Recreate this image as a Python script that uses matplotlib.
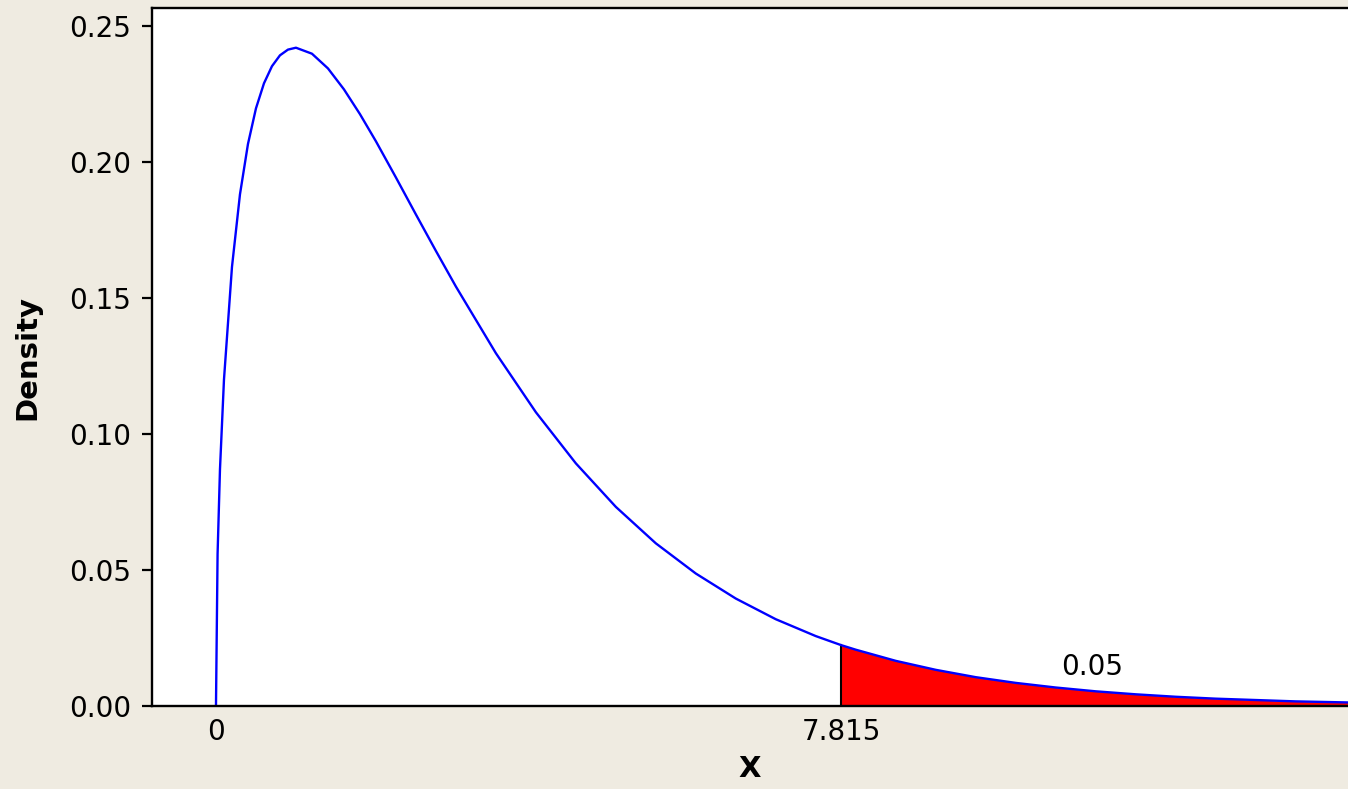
import numpy as np
import matplotlib
matplotlib.use('Agg')
import matplotlib.pyplot as plt

# density curve (chi-square shape, df = 3)
x_vals = [0.0, 0.0, 0.02, 0.05, 0.1, 0.2, 0.3, 0.4, 0.5, 0.6, 0.7, 0.8, 0.9, 1.0,
          1.2, 1.4, 1.6, 1.8, 2.0, 2.25, 2.5, 2.75, 3.0, 3.5, 4.0, 4.5, 5.0,
          5.5, 6.0, 6.5, 7.0, 7.5, 7.815, 8.0, 8.5, 9.0, 9.5, 10.0, 10.5,
          11.0, 11.5, 12.0, 12.5, 13.0, 13.5, 14.0, 14.5]
dens_vals = [0.0, 0.0, 0.0559, 0.0870, 0.1200, 0.1614, 0.1881, 0.2066, 0.2197,
             0.2289, 0.2352, 0.2392, 0.2413, 0.2420, 0.2398, 0.2344, 0.2267,
             0.2176, 0.2076, 0.1943, 0.1807, 0.1673, 0.1542, 0.1297, 0.1080,
             0.0892, 0.0732, 0.0598, 0.0487, 0.0395, 0.0319, 0.0257, 0.0224,
             0.0207, 0.0166, 0.0133, 0.0106, 0.0085, 0.0068, 0.0054, 0.0043,
             0.0034, 0.0027, 0.0022, 0.0017, 0.0014, 0.0011]
crit = 7.815
tail_label = '0.05'
tail_label_pos = (10.96, 0.0145)
xtick_vals = [0, crit]
xtick_labels = ['0', '7.815']
ytick_vals = [0.00, 0.05, 0.10, 0.15, 0.20, 0.25]

x = np.array(x_vals)
y = np.array(dens_vals)

bg = '#efebe1'
fig = plt.figure(figsize=(13.48, 7.89), dpi=100, facecolor=bg)
ax = fig.add_axes([152/1348, 83/789, 1 - 152/1348, 698/789])
ax.set_facecolor('white')

tail = x >= crit
ax.fill_between(x[tail], 0, y[tail], color='red', lw=0)
ax.plot([crit, crit], [0, y[x == crit][0]], color='black', lw=1.5)
ax.plot(x, y, color='blue', lw=1.7)

ax.text(tail_label_pos[0], tail_label_pos[1], tail_label, ha='center', va='center', fontsize=20)

ax.set_xlim(-0.80, 14.155)
ax.set_ylim(0, 0.2566)
ax.set_xticks(xtick_vals)
ax.set_xticklabels(xtick_labels)
ax.set_yticks(ytick_vals)
ax.set_yticklabels([f'{v:.2f}' for v in ytick_vals])
ax.tick_params(axis='x', length=0, pad=9, labelsize=20)
ax.tick_params(axis='y', length=7, width=1.6, pad=8, labelsize=20)

for s in ['left', 'bottom', 'top']:
    ax.spines[s].set_linewidth(1.7)
ax.spines['right'].set_visible(False)

ax.set_xlabel('X', fontsize=21, fontweight='bold', labelpad=6)
ax.set_ylabel('Density', fontsize=21, fontweight='bold', labelpad=20)

fig.savefig('out.png', dpi=100, facecolor=bg)
